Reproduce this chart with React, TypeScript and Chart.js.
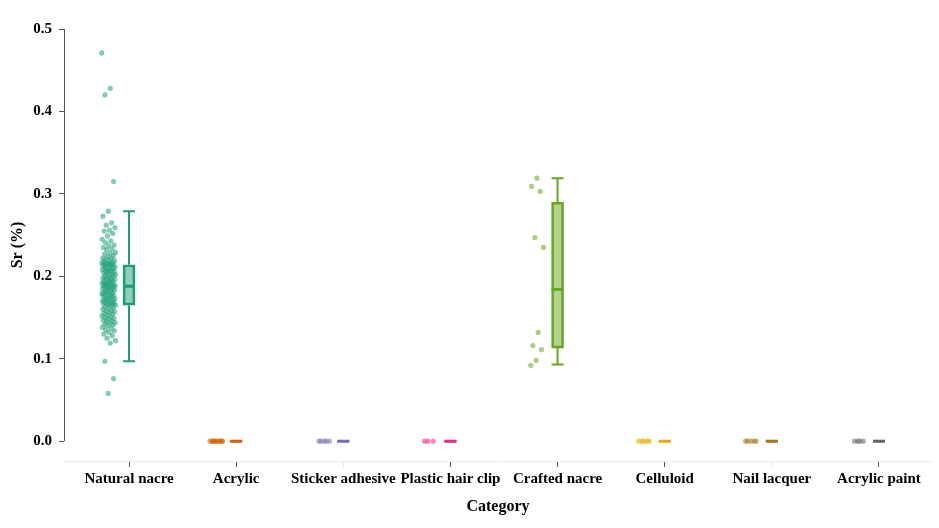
import { useEffect, useRef } from "react";
import { Chart, registerables } from "chart.js";

Chart.register(...registerables);

const categories = [
  "Natural nacre",
  "Acrylic",
  "Sticker adhesive",
  "Plastic hair clip",
  "Crafted nacre",
  "Celluloid",
  "Nail lacquer",
  "Acrylic paint",
];

const colors = ["#1b9e77", "#d95f02", "#7570b3", "#e7298a", "#66a61e", "#e6ab02", "#a6761d", "#666666"];

// Sr (%) per sample
const naturalNacre = [
  0.471, 0.428, 0.42, 0.315, 0.279, 0.273, 0.265, 0.262, 0.259, 0.256, 0.255, 0.252, 0.249, 0.245,
  0.243, 0.241, 0.238, 0.237, 0.235, 0.233, 0.232, 0.229, 0.228, 0.227, 0.225, 0.224, 0.222, 0.222,
  0.221, 0.219, 0.219, 0.218, 0.217, 0.216, 0.216, 0.215, 0.215, 0.214, 0.214, 0.213, 0.213, 0.212,
  0.211, 0.21, 0.21, 0.209, 0.208, 0.208, 0.207, 0.206, 0.206, 0.205, 0.204, 0.203, 0.203, 0.202,
  0.201, 0.2, 0.2, 0.199, 0.198, 0.197, 0.197, 0.196, 0.195, 0.194, 0.194, 0.193, 0.192, 0.192,
  0.191, 0.19, 0.19, 0.189, 0.189, 0.188, 0.188, 0.187, 0.187, 0.186, 0.185, 0.185, 0.184, 0.183,
  0.183, 0.182, 0.181, 0.18, 0.18, 0.179, 0.178, 0.178, 0.177, 0.176, 0.176, 0.175, 0.174, 0.173,
  0.173, 0.172, 0.171, 0.171, 0.17, 0.169, 0.169, 0.168, 0.167, 0.167, 0.166, 0.166, 0.165, 0.164,
  0.163, 0.162, 0.161, 0.16, 0.159, 0.158, 0.157, 0.156, 0.155, 0.154, 0.153, 0.152, 0.151, 0.15,
  0.149, 0.148, 0.147, 0.146, 0.145, 0.144, 0.143, 0.142, 0.141, 0.14, 0.138, 0.137, 0.135, 0.134,
  0.132, 0.13, 0.128, 0.125, 0.122, 0.119, 0.097, 0.076, 0.058,
];
const acrylic = [0, 0, 0, 0, 0, 0, 0, 0, 0, 0];
const stickerAdhesive = [0, 0, 0, 0, 0];
const plasticHairClip = [0, 0, 0];
const craftedNacre = [0.319, 0.309, 0.303, 0.247, 0.235, 0.132, 0.116, 0.111, 0.098, 0.092];
const celluloid = [0, 0, 0, 0, 0];
const nailLacquer = [0, 0, 0, 0, 0];
const acrylicPaint = [0, 0, 0, 0];

const samples = [naturalNacre, acrylic, stickerAdhesive, plasticHairClip, craftedNacre, celluloid, nailLacquer, acrylicPaint];

// box statistics per category
const whiskerLow = [0.097, 0, 0, 0, 0.093, 0, 0, 0];
const quartile1 = [0.165, 0, 0, 0, 0.113, 0, 0, 0];
const medians = [0.188, 0, 0, 0, 0.184, 0, 0, 0];
const quartile3 = [0.214, 0, 0, 0, 0.29, 0, 0, 0];
const whiskerHigh = [0.279, 0, 0, 0, 0.319, 0, 0, 0];

const yTicks = [0, 0.1, 0.2, 0.3, 0.4, 0.5];

const serif = "'Liberation Serif', 'Times New Roman', serif";
const capHalf = 0.056;

function withAlpha(hex: string, a: number) {
  const n = parseInt(hex.slice(1), 16);
  return `rgba(${(n >> 16) & 255}, ${(n >> 8) & 255}, ${n & 255}, ${a})`;
}

// fixed jitter so the strip sits left of each box
const jitter = (i: number, j: number) => -0.19 + (((j * 0.618034 + i * 0.37) % 1) - 0.5) * 0.13;

const yAxisLine = {
  id: "yAxisLine",
  afterDatasetsDraw(chart: Chart) {
    const { ctx, chartArea, scales } = chart;
    const y = scales.y;
    ctx.save();
    ctx.strokeStyle = "#555555";
    ctx.lineWidth = 1;
    ctx.beginPath();
    ctx.moveTo(chartArea.left + 0.5, y.getPixelForValue(0.5));
    ctx.lineTo(chartArea.left + 0.5, y.getPixelForValue(0));
    ctx.stroke();
    ctx.restore();
  },
};

export default function App() {
  const canvasRef = useRef<HTMLCanvasElement | null>(null);
  const chartRef = useRef<Chart | null>(null);

  useEffect(() => {
    const canvas = canvasRef.current;
    if (!canvas) return;

    chartRef.current?.destroy();

    const datasets: any[] = [];

    samples.forEach((values, i) => {
      datasets.push({
        type: "scatter",
        data: values.map((v, j) => ({ x: i + jitter(i, j), y: v })),
        backgroundColor: withAlpha(colors[i], 0.55),
        borderWidth: 0,
        pointRadius: 2.6,
        order: 3,
      });
    });

    categories.forEach((_, i) => {
      if (quartile3[i] > quartile1[i]) {
        datasets.push({
          type: "bar",
          data: [{ x: i, y: [quartile1[i], quartile3[i]] }],
          backgroundColor: withAlpha(colors[i], 0.5),
          borderColor: colors[i],
          borderWidth: 2,
          borderSkipped: false,
          barThickness: 12,
          grouped: false,
          order: 2,
        });
      }
      datasets.push({
        type: "line",
        data: [
          { x: i, y: whiskerLow[i] },
          { x: i, y: quartile1[i] },
          { x: i, y: null },
          { x: i, y: quartile3[i] },
          { x: i, y: whiskerHigh[i] },
          { x: i, y: null },
          { x: i - capHalf, y: whiskerLow[i] },
          { x: i + capHalf, y: whiskerLow[i] },
          { x: i, y: null },
          { x: i - capHalf, y: whiskerHigh[i] },
          { x: i + capHalf, y: whiskerHigh[i] },
        ],
        borderColor: colors[i],
        borderWidth: 2,
        pointRadius: 0,
        spanGaps: false,
        fill: false,
        order: 1,
      });
      datasets.push({
        type: "line",
        data: [
          { x: i - capHalf, y: medians[i] },
          { x: i + capHalf, y: medians[i] },
        ],
        borderColor: colors[i],
        borderWidth: 3,
        pointRadius: 0,
        fill: false,
        order: 0,
      });
    });

    chartRef.current = new Chart(canvas, {
      type: "scatter",
      data: { datasets },
      options: {
        responsive: true,
        maintainAspectRatio: false,
        animation: false,
        layout: { padding: { top: 29, right: 7, left: 0, bottom: 0 } },
        plugins: {
          legend: { display: false },
          tooltip: { enabled: false },
        },
        scales: {
          x: {
            type: "linear",
            min: -0.607,
            max: 7.495,
            offset: false,
            afterBuildTicks: (scale: any) => {
              scale.ticks = categories.map((_, i) => ({ value: i }));
            },
            afterFit: (scale: any) => {
              scale.height = 67;
            },
            ticks: {
              autoSkip: false,
              maxRotation: 0,
              padding: 3,
              color: "#000000",
              font: { family: serif, size: 15, weight: "bold" },
              callback: (value: any) => categories[Number(value)] ?? "",
            },
            grid: {
              offset: false,
              drawOnChartArea: false,
              drawTicks: true,
              tickLength: 6,
              color: (ctx: any) => (ctx.index === 2 || ctx.index === 6 ? "#e6e6e6" : "#555555"),
            },
            border: { display: true, color: "#ececec", width: 1 },
            title: {
              display: true,
              text: "Category",
              color: "#000000",
              font: { family: serif, size: 16, weight: "bold" },
              padding: { top: 8, bottom: 12 },
            },
          },
          y: {
            type: "linear",
            min: -0.024,
            max: 0.5,
            afterBuildTicks: (scale: any) => {
              scale.ticks = yTicks.map((v) => ({ value: v }));
            },
            afterFit: (scale: any) => {
              scale.width = 64;
            },
            ticks: {
              padding: 7,
              color: "#000000",
              font: { family: serif, size: 15, weight: "bold" },
              callback: (value: any) => Number(value).toFixed(1),
            },
            grid: {
              drawOnChartArea: false,
              drawTicks: true,
              tickLength: 5,
              color: "#555555",
            },
            border: { display: false },
            title: {
              display: true,
              text: "Sr (%)",
              color: "#000000",
              font: { family: serif, size: 16, weight: "bold" },
              padding: { top: 8, bottom: 0 },
            },
          },
        },
      },
      plugins: [yAxisLine],
    });

    return () => {
      chartRef.current?.destroy();
      chartRef.current = null;
    };
  }, []);

  return (
    <div style={{ position: "absolute", left: 0, top: 0, width: 939, height: 528, background: "#ffffff" }}>
      <canvas ref={canvasRef} />
    </div>
  );
}
